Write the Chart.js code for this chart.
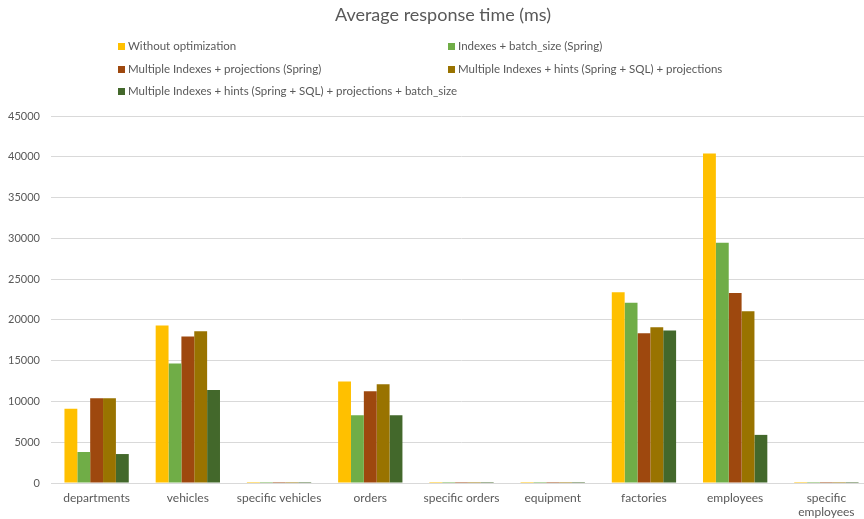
<!DOCTYPE html>
<html>
<head>
<meta charset="utf-8">
<script src="https://cdn.jsdelivr.net/npm/chart.js@4/dist/chart.umd.min.js"></script>
<style>
  html, body { margin: 0; padding: 0; background: #fff; }
  #wrap { position: relative; width: 864px; height: 519px; overflow: hidden; font-family: Lato, "Open Sans", sans-serif; }
  #chart { position: absolute; left: 0; top: 0; }
  #title { position: absolute; top: 3px; left: 0; width: 886px; text-align: center; font-size: 18px; color: #595959; }
  .lg { position: absolute; font-size: 11.5px; color: #595959; white-space: nowrap; line-height: 14px; }
  .lg i { display: inline-block; width: 7px; height: 7px; margin-right: 3px; vertical-align: 0px; }
</style>
</head>
<body>
<div id="wrap">
  <canvas id="chart" width="872" height="519"></canvas>
  <div id="title">Average response time (ms)</div>
  <div id="legend"></div>
</div>
<script>
// Query categories and average response times (ms) per optimization strategy
const categories = ['departments', 'vehicles', 'specific vehicles', 'orders', 'specific orders',
  'equipment', 'factories', 'employees', ['specific', 'employees']];

const seriesNames = [
  'Without optimization',
  'Indexes + batch_size (Spring)',
  'Multiple Indexes + projections (Spring)',
  'Multiple Indexes + hints (Spring + SQL) + projections',
  'Multiple Indexes + hints (Spring + SQL) + projections + batch_size'
];

const withoutOptimization   = [9100, 19300, 120, 12450, 120, 120, 23400, 40400, 120];
const indexesBatchSize      = [3800, 14650, 120,  8300, 120, 120, 22100, 29450, 120];
const multiIndexProjections = [10400, 17950, 120, 11250, 120, 120, 18350, 23300, 120];
const multiIndexHintsProj   = [10400, 18600, 120, 12100, 120, 120, 19100, 21050, 120];
const multiIndexHintsProjBS = [3550, 11400, 120,  8300, 120, 120, 18700, 5900, 120];

const yTicks = [0, 5000, 10000, 15000, 20000, 25000, 30000, 35000, 40000, 45000];

const colors = ['#FFC000', '#70AD47', '#9E480E', '#997300', '#43682B'];
const values = [withoutOptimization, indexesBatchSize, multiIndexProjections, multiIndexHintsProj, multiIndexHintsProjBS];

// Legend laid out in two columns
const legendPos = [[118, 39], [448, 39], [118, 62], [448, 62], [118, 84]];
const legendEl = document.getElementById('legend');
seriesNames.forEach((name, i) => {
  const d = document.createElement('div');
  d.className = 'lg';
  d.style.left = legendPos[i][0] + 'px';
  d.style.top = legendPos[i][1] + 'px';
  d.innerHTML = '<i style="background:' + colors[i] + '"></i>';
  d.appendChild(document.createTextNode(name));
  legendEl.appendChild(d);
});

new Chart(document.getElementById('chart'), {
  type: 'bar',
  data: {
    labels: categories,
    datasets: seriesNames.map((name, i) => ({
      label: name,
      data: values[i],
      backgroundColor: colors[i],
      borderWidth: 0,
      categoryPercentage: 0.705,
      barPercentage: 1.0
    }))
  },
  options: {
    responsive: false,
    animation: false,
    devicePixelRatio: 1,
    layout: { padding: { top: 116, right: 0, left: 0, bottom: 0 } },
    plugins: {
      legend: { display: false },
      title: { display: false },
      tooltip: { enabled: false }
    },
    scales: {
      x: {
        afterFit: (scale) => { scale.height = 36; },
        grid: { display: false, drawTicks: false },
        border: { display: true, color: '#d9d9d9', width: 1 },
        ticks: {
          color: '#595959',
          font: { family: 'Lato', size: 12 },
          padding: 8,
          maxRotation: 0,
          autoSkip: false
        }
      },
      y: {
        min: 0,
        max: 45000,
        afterFit: (scale) => { scale.width = 51; },
        afterBuildTicks: (scale) => { scale.ticks = yTicks.map(v => ({ value: v })); },
        grid: { color: '#d9d9d9', lineWidth: 1, drawTicks: false },
        border: { display: false },
        ticks: {
          color: '#595959',
          font: { family: 'Lato', size: 11 },
          padding: 11,
          callback: (v) => String(v)
        }
      }
    }
  }
});
</script>
</body>
</html>
